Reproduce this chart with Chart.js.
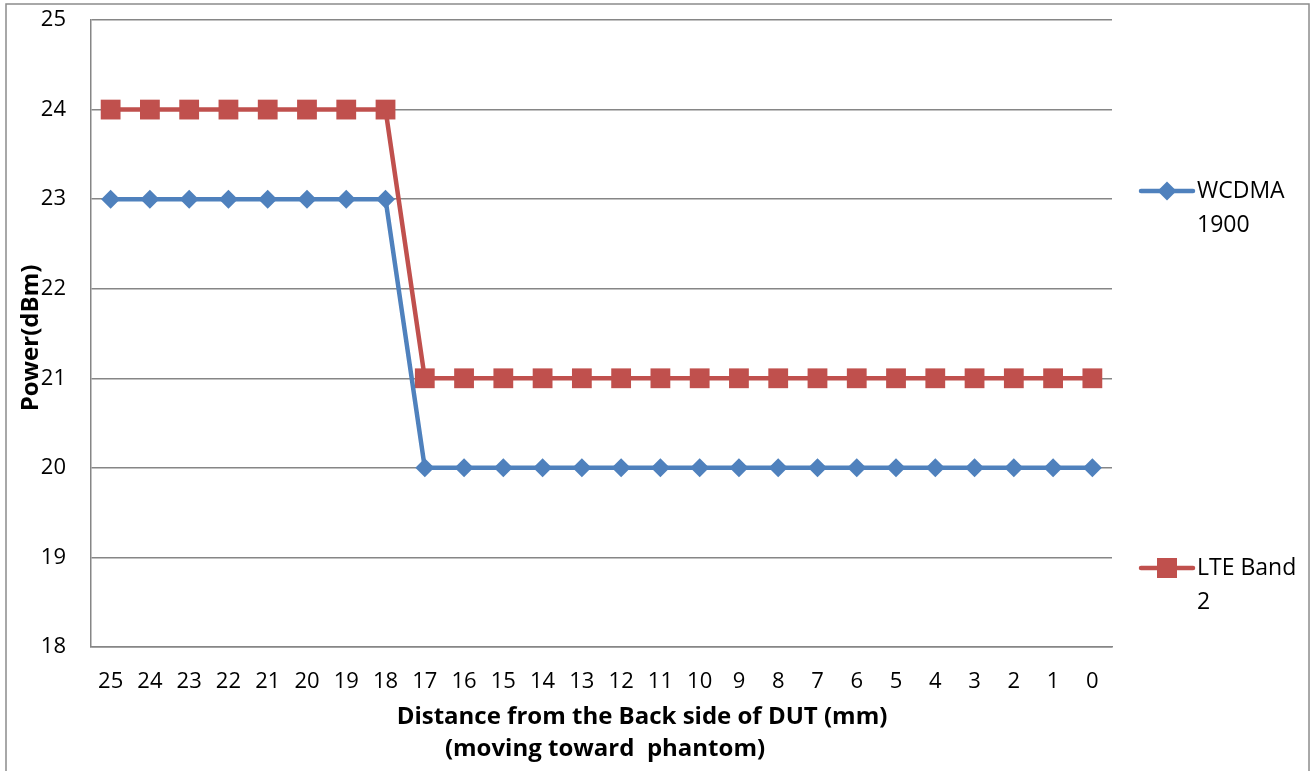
<!DOCTYPE html>
<html>
<head>
<meta charset="utf-8">
<script src="https://cdn.jsdelivr.net/npm/chart.js@4/dist/chart.umd.min.js"></script>
<style>
  html, body { margin:0; padding:0; background:#fff; }
  #wrap { width:1314px; height:771px; }
</style>
</head>
<body>
<div id="wrap"><canvas id="power-chart" width="1314" height="771"></canvas></div>
<script>
// distances (mm), moving toward phantom
var distances = ['25','24','23','22','21','20','19','18','17','16','15','14','13','12','11','10','9','8','7','6','5','4','3','2','1','0'];
var wcdma1900 = [23,23,23,23,23,23,23,23,20,20,20,20,20,20,20,20,20,20,20,20,20,20,20,20,20,20];
var lteBand2  = [24,24,24,24,24,24,24,24,21,21,21,21,21,21,21,21,21,21,21,21,21,21,21,21,21,21];
var yTicks = [18,19,20,21,22,23,24,25];

var BLUE = '#4F81BD', RED = '#C0504D', GRID = '#868686';
var FONT = '"Open Sans", "Liberation Sans", sans-serif';

// titles, legend and outer frame drawn on top
var decorPlugin = {
  id:'decor',
  afterDraw: function(chart) {
    var c = chart.ctx;
    c.save();
    c.strokeStyle = '#8c8c8c';
    c.lineWidth = 1.5;
    c.strokeRect(6, 4, 1303, 780);

    c.fillStyle = '#000';
    c.font = 'bold 24px ' + FONT;
    c.textAlign = 'center';
    c.textBaseline = 'middle';
    c.fillText('Distance from the Back side of DUT (mm)', 642, 717);
    c.fillText('(moving toward  phantom)', 605, 749);

    c.save();
    c.translate(31, 338);
    c.rotate(-Math.PI/2);
    c.fillText('Power(dBm)', 0, 0);
    c.restore();

    // legend
    function legendItem(y, color, style, line1, line2) {
      c.strokeStyle = color;
      c.lineWidth = 4.5;
      c.lineCap = 'round';
      c.beginPath(); c.moveTo(1141, y); c.lineTo(1193, y); c.stroke();
      c.fillStyle = color;
      c.beginPath();
      if (style === 'diamond') {
        c.moveTo(1167, y-9.5); c.lineTo(1176.5, y); c.lineTo(1167, y+9.5); c.lineTo(1157.5, y); c.closePath();
      } else {
        c.rect(1157, y-10, 20, 20);
      }
      c.fill();
      c.fillStyle = '#000';
      c.font = '23px ' + FONT;
      c.textAlign = 'left';
      c.fillText(line1, 1197, y);
      c.fillText(line2, 1197, y+34);
    }
    legendItem(191, BLUE, 'diamond', 'WCDMA', '1900');
    legendItem(568, RED, 'square', 'LTE Band', '2');
    c.restore();
  }
};

new Chart(document.getElementById('power-chart'), {
  type:'line',
  data:{
    labels: distances,
    datasets:[{
      label:'WCDMA 1900',
      data: wcdma1900,
      borderColor: BLUE,
      backgroundColor: BLUE,
      borderWidth: 4.5,
      pointStyle: 'rectRot',
      pointRadius: 9.5,
      pointBorderWidth: 0,
      pointBackgroundColor: BLUE,
      tension: 0
    },{
      label:'LTE Band 2',
      data: lteBand2,
      borderColor: RED,
      backgroundColor: RED,
      borderWidth: 4.5,
      pointStyle: 'rect',
      pointRadius: 14,
      pointBorderWidth: 0,
      pointBackgroundColor: RED,
      tension: 0
    }]
  },
  options:{
    responsive:false, animation:false,
    layout:{padding:{left:0, top:20, right:202, bottom:0}},
    plugins:{legend:{display:false}, tooltip:{enabled:false}},
    scales:{
      x:{
        offset:true,
        grid:{display:false, drawTicks:false},
        border:{display:true, color:GRID, width:1.5},
        ticks:{color:'#000', font:{family:FONT, size:22}, padding:22, maxRotation:0, autoSkip:false},
        afterFit:function(s){ s.height = 124; s.paddingTop = 0; s.paddingLeft = 0; s.paddingRight = 0; }
      },
      y:{
        min:18, max:25,
        afterBuildTicks:function(s){ s.ticks = yTicks.map(function(v){ return {value:v}; }); },
        grid:{color:GRID, lineWidth:1.5, drawTicks:false},
        border:{display:true, color:GRID, width:1.5},
        ticks:{color:'#000', font:{family:FONT, size:22}, padding:25},
        afterFit:function(s){ s.width = 91; s.paddingTop = 0; s.paddingBottom = 0; }
      }
    }
  },
  plugins:[decorPlugin]
});
</script>
</body>
</html>
